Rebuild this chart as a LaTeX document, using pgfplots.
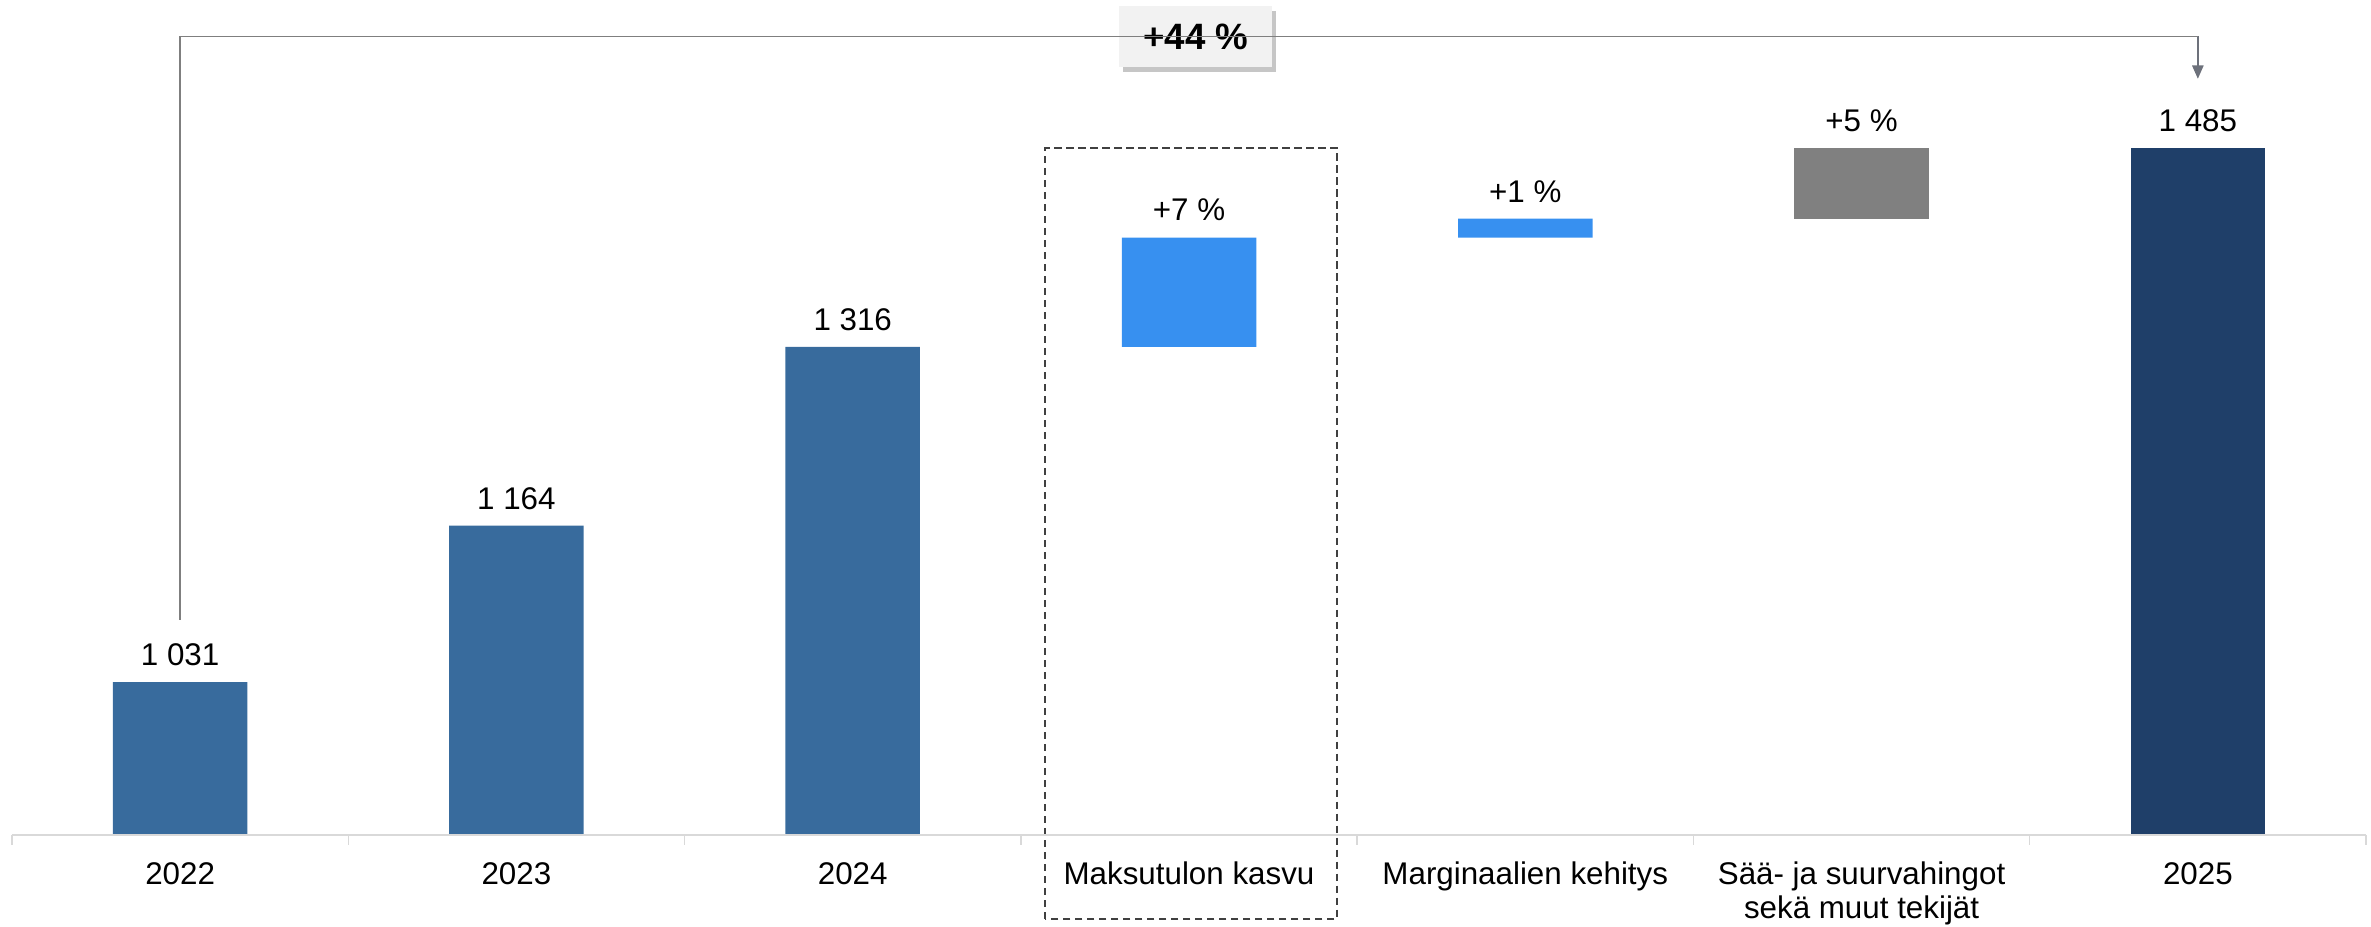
\documentclass[border=0pt]{standalone}
\usepackage{fontspec}
\setmainfont{Liberation Sans}
\usepackage{pgfplots}
\pgfplotsset{compat=1.18}
\usetikzlibrary{arrows.meta,shadows}
\definecolor{barSteel}{HTML}{386B9D}
\definecolor{barNavy}{HTML}{1F3F69}
\definecolor{barLight}{HTML}{3790F0}
\definecolor{barGray}{HTML}{808080}
\definecolor{axGray}{HTML}{D9D9D9}
\definecolor{brkGray}{HTML}{7F7F7F}
\definecolor{arrGray}{HTML}{6D717B}
\definecolor{boxGray}{HTML}{F2F2F2}
\definecolor{dashGray}{HTML}{404040}

\begin{document}
\begin{tikzpicture}[
  lbl/.style={anchor=base, yshift=5pt, inner sep=0pt, font=\fontsize{9.4}{11}\selectfont}
]
\begin{axis}[
  name=ax,
  scale only axis,
  width=706.2pt, height=250.5pt,
  xmin=-0.5, xmax=6.5, ymin=901, ymax=1611,
  ybar stacked, bar width=0.4,
  axis x line*=bottom, axis y line=none,
  x axis line style={draw=axGray, line width=0.6pt},
  axis on top,
  xtick={0,...,6},
  xticklabels={2022,2023,2024,Maksutulon kasvu,Marginaalien kehitys,{Sää- ja suurvahingot\\sekä muut tekijät},2025},
  typeset ticklabels with strut,
  xticklabel style={font=\fontsize{9.4}{10.3}\selectfont, align=center, inner sep=0pt, anchor=north, yshift=-7.4pt},
  major tick length=0pt,
  minor xtick={-0.5,0.5,...,6.5},
  minor tick length=3pt,
  tick align=outside,
  minor tick style={draw=axGray, line width=0.4pt},
  clip mode=individual,
]
% invisible base of the floating bars
\addplot[fill=none, draw=none] coordinates {(0,0) (1,0) (2,0) (3,1316) (4,1409) (5,1425) (6,0)};
% years 2022-2024
\addplot[fill=barSteel, draw=none] coordinates {(0,1031) (1,1164) (2,1316) (3,0) (4,0) (5,0) (6,0)};
% increments
\addplot[fill=barLight, draw=none] coordinates {(0,0) (1,0) (2,0) (3,93) (4,16) (5,0) (6,0)};
\addplot[fill=barGray, draw=none] coordinates {(0,0) (1,0) (2,0) (3,0) (4,0) (5,60) (6,0)};
% 2025
\addplot[fill=barNavy, draw=none] coordinates {(0,0) (1,0) (2,0) (3,0) (4,0) (5,0) (6,1485)};

\node[lbl] at (axis cs:0,1031) {1 031};
\node[lbl] at (axis cs:1,1164) {1 164};
\node[lbl] at (axis cs:2,1316) {1 316};
\node[lbl] at (axis cs:3,1409) {+7 \%};
\node[lbl] at (axis cs:4,1425) {+1 \%};
\node[lbl] at (axis cs:5,1485) {+5 \%};
\node[lbl] at (axis cs:6,1485) {1 485};

\draw[dashGray, line width=0.6pt, dash pattern=on 2.2pt off 1.4pt]
  (axis cs:2.572,829.6) rectangle (axis cs:3.44,1485);

\draw[brkGray, line width=0.45pt] (axis cs:0,1084) |- (axis cs:6,1580);
\draw[arrGray, line width=0.45pt, -{Triangle[length=4pt,width=3.4pt]}] (axis cs:6,1580) -- (axis cs:6,1544);
\node[fill=boxGray, minimum width=46pt, minimum height=18.3pt, inner sep=0pt,
  drop shadow={shadow xshift=1.2pt, shadow yshift=-1.5pt, opacity=0.45},
  font=\fontsize{11}{13}\selectfont\bfseries] at (axis cs:3.02,1580) {+44 \%};
\end{axis}
\pgfresetboundingbox
\path[use as bounding box] ([xshift=-3.6pt,yshift=-27.6pt]ax.south west) rectangle ([xshift=1.5pt]ax.north east);
\end{tikzpicture}
\end{document}
